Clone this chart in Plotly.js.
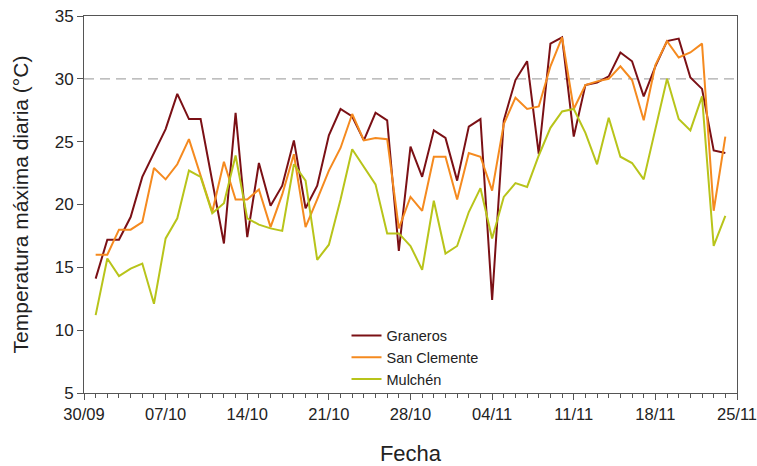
<!DOCTYPE html>
<html>
<head>
<meta charset="utf-8">
<script src="https://cdn.plot.ly/plotly-3.0.1.min.js"></script>
<style>html,body{margin:0;padding:0;background:#fff;}#chart{width:757px;height:466px;}</style>
</head>
<body>
<div id="chart"></div>
<script>
const fechas = [
 "2012-10-01","2012-10-02","2012-10-03","2012-10-04","2012-10-05","2012-10-06","2012-10-07",
 "2012-10-08","2012-10-09","2012-10-10","2012-10-11","2012-10-12","2012-10-13","2012-10-14",
 "2012-10-15","2012-10-16","2012-10-17","2012-10-18","2012-10-19","2012-10-20","2012-10-21",
 "2012-10-22","2012-10-23","2012-10-24","2012-10-25","2012-10-26","2012-10-27","2012-10-28",
 "2012-10-29","2012-10-30","2012-10-31","2012-11-01","2012-11-02","2012-11-03","2012-11-04",
 "2012-11-05","2012-11-06","2012-11-07","2012-11-08","2012-11-09","2012-11-10","2012-11-11",
 "2012-11-12","2012-11-13","2012-11-14","2012-11-15","2012-11-16","2012-11-17","2012-11-18",
 "2012-11-19","2012-11-20","2012-11-21","2012-11-22","2012-11-23","2012-11-24"
];
const graneros = [
 14.1,17.2,17.2,19.0,22.2,24.1,26.0,28.8,26.8,26.8,21.8,16.9,27.3,17.4,
 23.3,19.9,21.5,25.1,19.7,21.5,25.5,27.6,27.0,25.1,27.3,26.7,16.3,24.6,
 22.2,25.9,25.3,21.9,26.2,26.8,12.4,26.7,29.9,31.4,24.0,32.8,33.3,25.4,
 29.5,29.7,30.2,32.1,31.4,28.6,31.0,33.0,33.2,30.1,29.2,24.3,24.1
];
const sanClemente = [
 16.0,16.0,18.0,18.0,18.6,22.9,22.0,23.2,25.2,22.3,19.4,23.4,20.4,20.4,
 21.2,18.2,20.8,24.0,18.2,20.4,22.7,24.5,27.2,25.1,25.3,25.2,18.1,20.6,
 19.5,23.8,23.8,20.4,24.1,23.8,21.1,26.4,28.5,27.6,27.8,31.0,33.3,27.6,
 29.5,29.8,30.0,31.0,29.9,26.7,31.1,33.0,31.7,32.1,32.8,19.5,25.4
];
const mulchen = [
 11.2,15.7,14.3,14.9,15.3,12.1,17.3,18.9,22.7,22.2,19.3,20.1,23.9,18.9,
 18.4,18.1,17.9,23.2,21.9,15.6,16.8,20.4,24.4,23.0,21.6,17.7,17.7,16.7,
 14.8,20.3,16.1,16.7,19.4,21.3,17.3,20.6,21.7,21.4,23.9,26.1,27.4,27.6,
 25.7,23.2,26.9,23.8,23.3,22.0,26.0,30.0,26.8,25.9,28.6,16.7,19.1
];
const tickFechas = ["2012-09-30","2012-10-07","2012-10-14","2012-10-21","2012-10-28",
 "2012-11-04","2012-11-11","2012-11-18","2012-11-25"];
const tickTextos = ["30/09","07/10","14/10","21/10","28/10","04/11","11/11","18/11","25/11"];
const umbral = 30;
const xRange = ["2012-09-30","2012-11-25"];
const yRange = [5, 35];

const font = "Liberation Sans, Arial, sans-serif";
const traces = [
 {x: fechas, y: graneros, name: "Graneros", type: "scatter", mode: "lines",
  line: {color: "#7b1015", width: 2}},
 {x: fechas, y: sanClemente, name: "San Clemente", type: "scatter", mode: "lines",
  line: {color: "#f58a1f", width: 2}},
 {x: fechas, y: mulchen, name: "Mulchén", type: "scatter", mode: "lines",
  line: {color: "#b8c41a", width: 2}}
];
const layout = {
 width: 757, height: 466,
 margin: {l: 84, r: 20, t: 16, b: 73},
 paper_bgcolor: "#fff", plot_bgcolor: "#fff",
 font: {family: font, color: "#222", size: 16},
 showlegend: true,
 legend: {x: 0.402, y: 0.195, xanchor: "left", yanchor: "top",
   font: {family: font, size: 14.5, color: "#222"}, bgcolor: "rgba(0,0,0,0)",
   tracegroupgap: 0},
 xaxis: {
   type: "date", range: xRange, tickmode: "array", tickvals: tickFechas, ticktext: tickTextos,
   ticklabeloverflow: "allow",
   ticks: "outside", ticklen: 6, tickwidth: 1, tickcolor: "#555",
   minor: {dtick: 86400000, tick0: "2012-09-30", ticks: "outside", ticklen: 4, tickcolor: "#555", showgrid: false},
   showline: true, linecolor: "#555", linewidth: 1, mirror: true, showgrid: false, zeroline: false,
   tickfont: {family: font, size: 16.5, color: "#222"},
   title: {text: "Fecha", font: {family: font, size: 22, color: "#222"}, standoff: 24}
 },
 yaxis: {
   range: yRange, dtick: 5, ticks: "outside", ticklen: 6, tickwidth: 1, tickcolor: "#555",
   showline: true, linecolor: "#555", linewidth: 1, mirror: true, showgrid: false, zeroline: false,
   tickfont: {family: font, size: 17, color: "#222"},
   title: {text: "Temperatura máxima diaria (°C)", font: {family: font, size: 21, color: "#222"}, standoff: 20}
 },
 shapes: [{type: "line", xref: "paper", x0: 0, x1: 1, yref: "y", y0: umbral, y1: umbral,
   line: {color: "#aaaaaa", width: 1.2, dash: "10px,6px"}, layer: "below"}]
};
Plotly.newPlot("chart", traces, layout, {displayModeBar: false, staticPlot: true});
</script>
</body>
</html>
